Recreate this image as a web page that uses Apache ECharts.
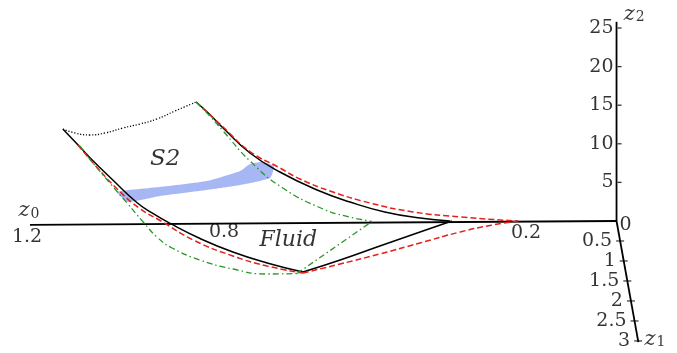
<!DOCTYPE html>
<html><head><meta charset="utf-8">
<script src="https://cdn.jsdelivr.net/npm/echarts@6/dist/echarts.min.js"></script>
<style>html,body{margin:0;padding:0;background:#fff}#c{width:677px;height:353px}</style>
</head><body><div id="c"></div>
<script>
// Projected drawing plane: horizontal in z0 units (reversed), vertical in z2 units.
const z0Ticks = [1.2, 0.8, 0.2];
const z2Ticks = [5, 10, 15, 20, 25];
const z1Ticks = [0.5, 1, 1.5, 2, 2.5, 3];
const z1Max = 3.03;
// oblique direction of the z1 axis on the drawing plane (per unit of z1)
const z1Dir = [-0.0147, -5.18];
const origin = [0.003, 0];
const projZ1 = t => [origin[0] + t * z1Dir[0], origin[1] + t * z1Dir[1]];

const topEdge = [[1.133,11.92],[1.108,11.40],[1.078,11.14],[1.047,11.40],[1.010,12.05],[0.976,12.56],[0.941,13.21],[0.904,14.25],[0.861,15.41]];
const blackA = [[1.133,11.92],[1.098,9.59],[1.073,7.90],[1.031,5.31],[0.982,2.40],[0.951,1.04],[0.914,-0.32],[0.853,-2.27],[0.786,-4.02],[0.716,-5.44],[0.643,-6.61]];
const redA   = [[1.102,9.84],[1.073,7.64],[1.022,4.15],[0.976,1.62],[0.931,-0.06],[0.867,-2.46],[0.786,-4.53],[0.716,-5.83],[0.643,-6.74]];
const greenA = [[1.098,9.72],[1.078,8.03],[1.037,4.92],[1.002,2.33],[0.969,-0.13],[0.941,-2.07],[0.910,-3.50],[0.853,-5.05],[0.786,-6.22],[0.716,-6.87],[0.655,-6.80]];
const blackB = [[0.861,15.41],[0.833,13.79],[0.806,12.05],[0.751,8.81],[0.690,6.35],[0.614,4.02],[0.547,2.46],[0.476,1.17],[0.404,0.39],[0.343,0]];
const redB   = [[0.861,15.41],[0.806,12.18],[0.751,9.0],[0.690,6.87],[0.649,5.44],[0.588,3.89],[0.506,2.33],[0.418,1.17],[0.322,0.52],[0.204,0]];
const greenB = [[0.861,15.41],[0.833,13.60],[0.806,11.66],[0.751,7.77],[0.684,4.27],[0.602,1.55],[0.557,0.65],[0.502,-0.06]];
const blackC = [[0.643,-6.61],[0.567,-5.05],[0.486,-3.24],[0.404,-1.42],[0.339,0]];
const redC   = [[0.643,-6.74],[0.567,-5.57],[0.486,-4.27],[0.404,-2.85],[0.322,-1.42],[0.261,-0.58],[0.204,0]];
const greenC = [[0.655,-6.80],[0.502,-0.06]];
const band = [[1.022,3.76],[0.935,4.40],[0.839,5.18],[0.771,6.48],[0.751,7.38],[0.727,7.64],[0.702,7.12],[0.710,5.57],[0.771,4.66],[0.839,4.02],[0.935,3.24],[1.0,2.46]];

const z0Axis = [[1.2,-0.5],[0.003,0]];
const z2Axis = [[0.003,0],[0.003,25.8]];

// label layout (pixel nudges), kept separate from the data
const z0LabelShift = [[-3,16],[-2,11],[6,12]];

const SERIF = 'DejaVu Serif';
const RED = '#e5201c', GREEN = '#2a962a', BLUE = '#a7b7f3';

function curve(data, color, width, type, smooth, z) {
  return {type:'line', data, symbol:'none', smooth, clip:false, silent:true, z: z||3,
    lineStyle:{color, width, type, cap:'butt'}};
}
function zLabel(sub, pos) {
  return {value: pos, label: {formatter: '{z|z}{s|' + sub + '}'}};
}
function texts(extra) {
  return Object.assign({type:'scatter', silent:true, symbolSize:0, z:6, clip:false}, extra);
}

const chart = echarts.init(document.getElementById('c'), null, {renderer:'canvas'});
chart.setOption({
  animation:false,
  backgroundColor:'#fff',
  grid:{left:30, right:10, top:28, bottom:8.5},
  xAxis:{type:'value', min:-0.1, max:1.2, inverse:true, show:false},
  yAxis:{type:'value', min:-16, max:25, show:false},
  series:[
    {type:'custom', silent:true, clip:false, z:1, data: band,
     renderItem:(p, api) => p.dataIndex !== 0 ? null : ({type:'polygon',
       shape:{points: band.map(q => api.coord(q)), smooth:0.15}, style:{fill:BLUE}})},
    curve(z0Axis, '#000', 1.8, 'solid', false, 2),
    curve(z2Axis, '#000', 1.8, 'solid', false, 2),
    curve([projZ1(0), projZ1(z1Max)], '#000', 1.8, 'solid', false, 2),
    curve(blackA, '#000', 1.5, 'solid', true, 3),
    curve(blackB, '#000', 1.5, 'solid', true, 3),
    curve(blackC, '#000', 1.5, 'solid', true, 3),
    curve(topEdge, '#000', 1.3, [1.2,1.8], true, 3),
    curve(redA, RED, 1.5, [6,3], true, 4),
    curve(redB, RED, 1.5, [6,3], true, 4),
    curve(redC, RED, 1.5, [6,3], true, 4),
    curve(greenA, GREEN, 1.3, [6,3,1.5,3], true, 4),
    curve(greenB, GREEN, 1.3, [6,3,1.5,3], true, 4),
    curve(greenC, GREEN, 1.3, [6,3,1.5,3], false, 4),
    // tick marks
    {type:'scatter', silent:true, clip:false, symbol:'rect', symbolSize:[4,1.3], symbolOffset:[3,0], z:5,
     itemStyle:{color:'#000'}, data: z2Ticks.map(t => [origin[0], t])},
    {type:'scatter', silent:true, clip:false, symbol:'rect', symbolSize:[8,1.2], z:5,
     itemStyle:{color:'#000'}, data: z1Ticks.map(projZ1)},
    // z2 tick labels
    texts({label:{show:true, position:'left', distance:3, color:'#000', fontFamily:SERIF, fontSize:19,
       formatter: p => String(z2Ticks[p.dataIndex])},
     data: z2Ticks.map(t => [origin[0], t])}),
    // z1 tick labels
    texts({label:{show:true, position:'left', distance:8, color:'#000', fontFamily:SERIF, fontSize:19,
       formatter: p => String(z1Ticks[p.dataIndex])},
     data: z1Ticks.map(projZ1)}),
    // z0 tick labels
    texts({label:{show:true, position:'inside', color:'#000', fontFamily:SERIF, fontSize:19,
       formatter: p => String(z0Ticks[p.dataIndex])},
     data: z0Ticks.map((t, i) => ({value:[t, 0], label:{offset: z0LabelShift[i]}}))}),
    // origin 0
    texts({label:{show:true, position:'right', distance:3, offset:[0,4], color:'#000', fontFamily:SERIF, fontSize:19, formatter:'0'},
     data:[origin]}),
    // axis names
    texts({label:{show:true, position:'inside', color:'#000',
       rich:{z:{fontFamily:SERIF, fontStyle:'italic', fontSize:21, lineHeight:20},
             s:{fontFamily:SERIF, fontSize:14, lineHeight:14, verticalAlign:'bottom', padding:[0,0,0,1]}}},
     data:[zLabel('0',[1.202,1.3]), zLabel('2',[-0.033,26.8]), zLabel('1',[-0.0755,-15.3])]}),
    // region names
    texts({label:{show:true, position:'inside', color:'#000', fontFamily:SERIF, fontStyle:'italic'},
     data:[{value:[0.924,7.97], label:{formatter:'S2', fontSize:23}},
           {value:[0.673,-2.46], label:{formatter:'Fluid', fontSize:22}}]})
  ]
});
</script></body></html>
